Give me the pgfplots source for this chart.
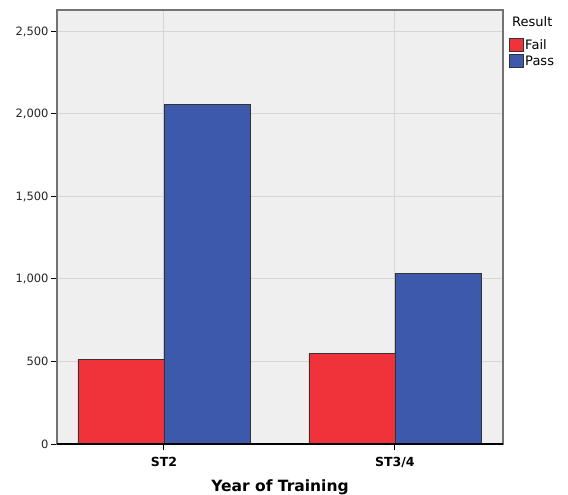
\documentclass[border=0pt]{standalone}
\usepackage{pgfplots}
\pgfplotsset{compat=1.18}
\usepackage{fontspec}
\setmainfont{DejaVu Sans}
\definecolor{failred}{HTML}{F0323A}
\definecolor{passblue}{HTML}{3D59AB}
\definecolor{bgc}{HTML}{EFEFEF}
\definecolor{gridc}{HTML}{D6D6D6}
\begin{document}
\begin{tikzpicture}
\begin{axis}[
  scale only axis,
  width=446bp, height=434bp,
  ybar=0pt, bar width=86bp,
  xmin=-0.463, xmax=1.468,
  ymin=0, ymax=2630,
  xtick={0,1}, xticklabels={ST2,ST3/4},
  ytick={0,500,1000,1500,2000,2500},
  /pgf/number format/assume math mode=true,
  /pgf/number format/1000 sep={,},
  scaled y ticks=false,
  yticklabel style={font=\fontsize{11.5bp}{13bp}\selectfont, text=black!85, xshift=1bp},
  xticklabel style={font=\bfseries\fontsize{12.5bp}{14bp}\selectfont, yshift=-4bp},
  xlabel={\bfseries Year of Training},
  xlabel style={font=\fontsize{15.5bp}{17bp}\selectfont, yshift=-5bp},
  axis background/.style={fill=bgc},
  grid=major,
  major grid style={gridc, line width=1pt},
  axis line style={draw=black!55, line width=1.3pt},
  tick style={black, line width=1pt},
  tick align=outside,
  major tick length=6bp,
  xtick pos=bottom, ytick pos=left,
  legend style={at={(1.012,0.937)}, anchor=north west, draw=none, fill=none,
     font=\fontsize{13bp}{15bp}\selectfont, row sep=1bp, inner sep=0pt,
     /tikz/every even column/.append style={column sep=2bp}},
  legend cell align=left,
  area legend,
  legend image code/.code={\draw[#1, draw=black!80, line width=0.7pt] (0bp,-6bp) rectangle (14bp,7bp);},
]
\addplot[fill=failred, draw=black!80, line width=0.8pt] coordinates {(0,515) (1,550)};
\addplot[fill=passblue, draw=black!80, line width=0.8pt] coordinates {(0,2056) (1,1036)};
\legend{Fail,Pass}
\end{axis}
\draw[black, line width=1.2pt] (current axis.south west) -- (current axis.south east);
\node[anchor=west, font=\fontsize{13bp}{15bp}\selectfont, inner sep=0pt] at ([xshift=9bp,yshift=-12bp]current axis.north east) {Result};
\pgfresetboundingbox
\path ([xshift=-57bp,yshift=-51bp]current axis.south west) rectangle ([xshift=65bp,yshift=10bp]current axis.north east);
\end{tikzpicture}
\end{document}
